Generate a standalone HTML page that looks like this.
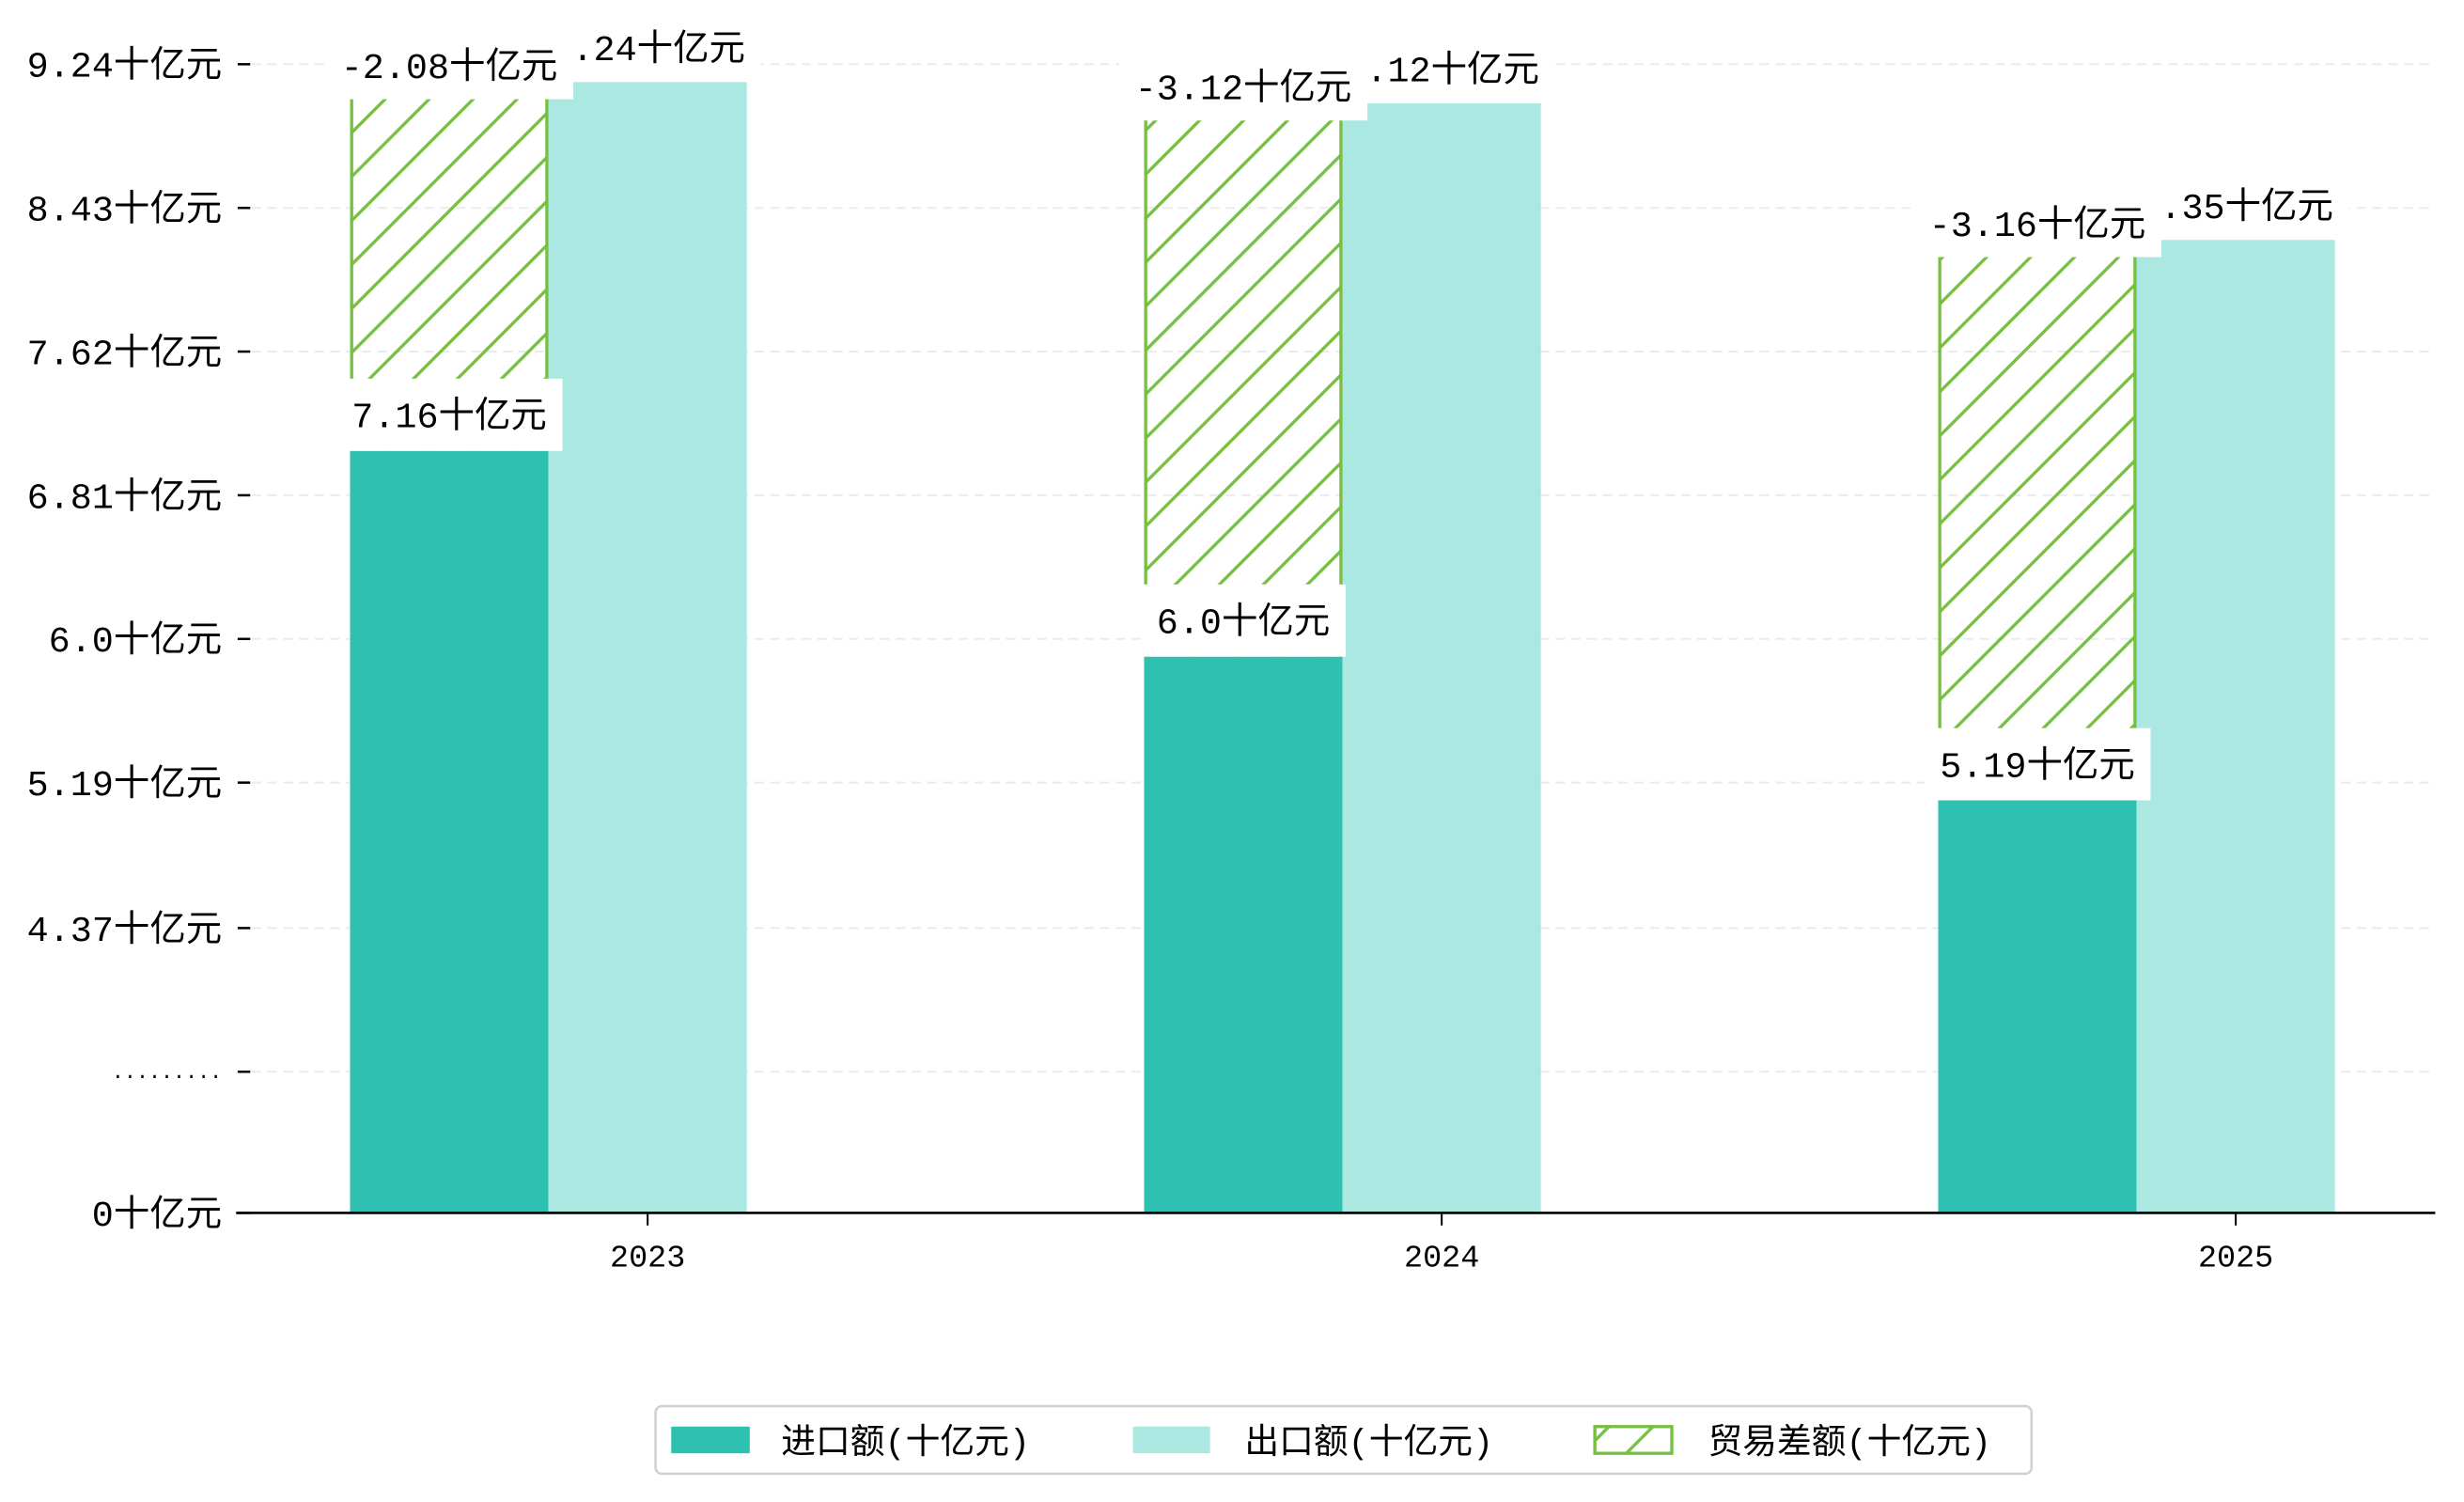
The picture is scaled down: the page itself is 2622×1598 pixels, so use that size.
<!DOCTYPE html>
<html><head><meta charset="utf-8"><style>
html,body{margin:0;padding:0;background:#fff;}
svg{display:block;font-family:"Liberation Mono","Noto Sans CJK SC",monospace;}
</style></head><body>
<svg id="chart" width="2622" height="1598" viewBox="0 0 1568 956" xmlns="http://www.w3.org/2000/svg">
<defs>
<pattern id="hatch" patternUnits="userSpaceOnUse" width="28" height="28">
<line x1="-2" y1="30" x2="30" y2="-2" stroke="#77bf41" stroke-width="2"/>
<line x1="-16" y1="16" x2="16" y2="-16" stroke="#77bf41" stroke-width="2"/>
<line x1="12" y1="44" x2="44" y2="12" stroke="#77bf41" stroke-width="2"/>
</pattern>
</defs>
<g id="grid"></g>
<g id="bars"></g>
<g id="axes"></g>
<g id="labels"></g>
<g id="legend">
<rect x="417" y="895" width="876" height="43" rx="4" fill="#fff" stroke="#d0d0d0" stroke-width="1.5"/>
<g>
<rect x="427" y="908" width="50" height="17" fill="#2ec0b1"/>
<text x="497" y="925" font-size="22">进口额(十亿元)</text></g>
<g>
<rect x="721" y="908" width="49" height="17" fill="#abe8e2"/>
<text x="792" y="925" font-size="22">出口额(十亿元)</text></g>
<g>
<rect x="1015" y="908" width="49" height="17" fill="url(#hatch)" stroke="#77bf41" stroke-width="2"/>
<text x="1087" y="925" font-size="22">贸易差额(十亿元)</text></g>
</g>
</svg>
<script>
const categories = ["2023","2024","2025"];
const importVals = [7.16, 6.0, 5.19];
const exportVals = [9.24, 9.12, 8.35];
const balanceVals = [-2.08, -3.12, -3.16];
const tickLabels = ["9.24十亿元","8.43十亿元","7.62十亿元","6.81十亿元","6.0十亿元","5.19十亿元","4.37十亿元",".........","0十亿元"];
const tickVals = [9.34, 8.53, 7.72, 6.91, 6.10, 5.29, 4.47, 3.66, 2.85];

const NS="http://www.w3.org/2000/svg";
const baseY=772;
function y(v){ return 287 + (7.16 - v)*112.9; }
function xc(i){ return 412 + i*505.5; }
const bw=126.3;
function mk(tag, attrs, parent, txt){
  const e=document.createElementNS(NS,tag);
  for(const k in attrs) e.setAttribute(k,attrs[k]);
  if(txt!==undefined) e.textContent=txt;
  document.getElementById(parent).appendChild(e);
  return e;
}
function tw(s){ let w=0; for(const ch of s){ w += ch.charCodeAt(0)>255 ? 23 : 13.8; } return w; }
tickVals.forEach((tv,i)=>{
  const ty = i===tickVals.length-1 ? baseY : y(tv);
  if(i<tickVals.length-1){
    const g=mk('line',{x1:160,x2:1550,y1:ty,y2:ty,stroke:'#ebebeb','stroke-width':1.2,'stroke-dasharray':'6,4'},'grid');
    
    
  }
  const t=mk('line',{x1:151,x2:159,y1:ty,y2:ty,stroke:'#000','stroke-width':1.5},'axes');
  
  
  const isDots = tickLabels[i].indexOf('十')<0;
  const l=mk('text',{x:141,y:ty+(isDots?4:8),'text-anchor':'end','font-size':isDots?13:23},'axes',tickLabels[i]);
  
  
});
const ax=mk('line',{x1:150,x2:1550,y1:baseY,y2:baseY,stroke:'#000','stroke-width':1.6},'axes');


categories.forEach((c,i)=>{
  const cx=xc(i);
  const t=mk('line',{x1:cx,x2:cx,y1:baseY,y2:baseY+8,stroke:'#000','stroke-width':1.2},'axes');
  
  
  const l=mk('text',{x:cx,y:baseY+34,'text-anchor':'middle','font-size':20},'axes',c);
  
  
  const ix=cx-1.5*bw, ex=cx-0.5*bw;
  const ib=mk('rect',{x:ix,y:y(importVals[i]),width:bw,height:baseY-y(importVals[i]),fill:'#2ec0b1'},'bars');
  
  
  const eb=mk('rect',{x:ex,y:y(exportVals[i]),width:bw,height:baseY-y(exportVals[i]),fill:'#abe8e2'},'bars');
  
  
  const top=y(importVals[i]+Math.abs(balanceVals[i]));
  const bot=y(importVals[i]);
  const hb=mk('rect',{x:ix+1,y:top,width:bw-2,height:bot-top,fill:'url(#hatch)'},'bars');
  
  
  const le=mk('line',{x1:ix+1,x2:ix+1,y1:top,y2:bot,stroke:'#77bf41','stroke-width':2},'bars');
  
  
  const re=mk('line',{x1:ix+bw-1,x2:ix+bw-1,y1:top,y2:bot,stroke:'#77bf41','stroke-width':2},'bars');
  
  
  const eTop=y(exportVals[i]);
  const specs=[
    [ex+bw/2, eTop-44, eTop, exportVals[i].toFixed(2)+'十亿元','label-export-'+c],
    [ix+bw/2, top-32, top+11, balanceVals[i].toFixed(2)+'十亿元','label-balance-'+c],
    [ix+bw/2, bot-46, bot, (importVals[i]===6?'6.0':importVals[i].toFixed(2))+'十亿元','label-import-'+c]
  ];
  specs.forEach(s=>{
    const w=tw(s[3])+20;
    const bg=mk('rect',{x:s[0]-w/2,y:s[1],width:w,height:s[2]-s[1],fill:'#fff'},'labels');
    
    
    const tx=mk('text',{x:s[0],y:(s[1]+s[2])/2+8,'text-anchor':'middle','font-size':23},'labels',s[3]);
    
    
  });
});
</script>
</body></html>
